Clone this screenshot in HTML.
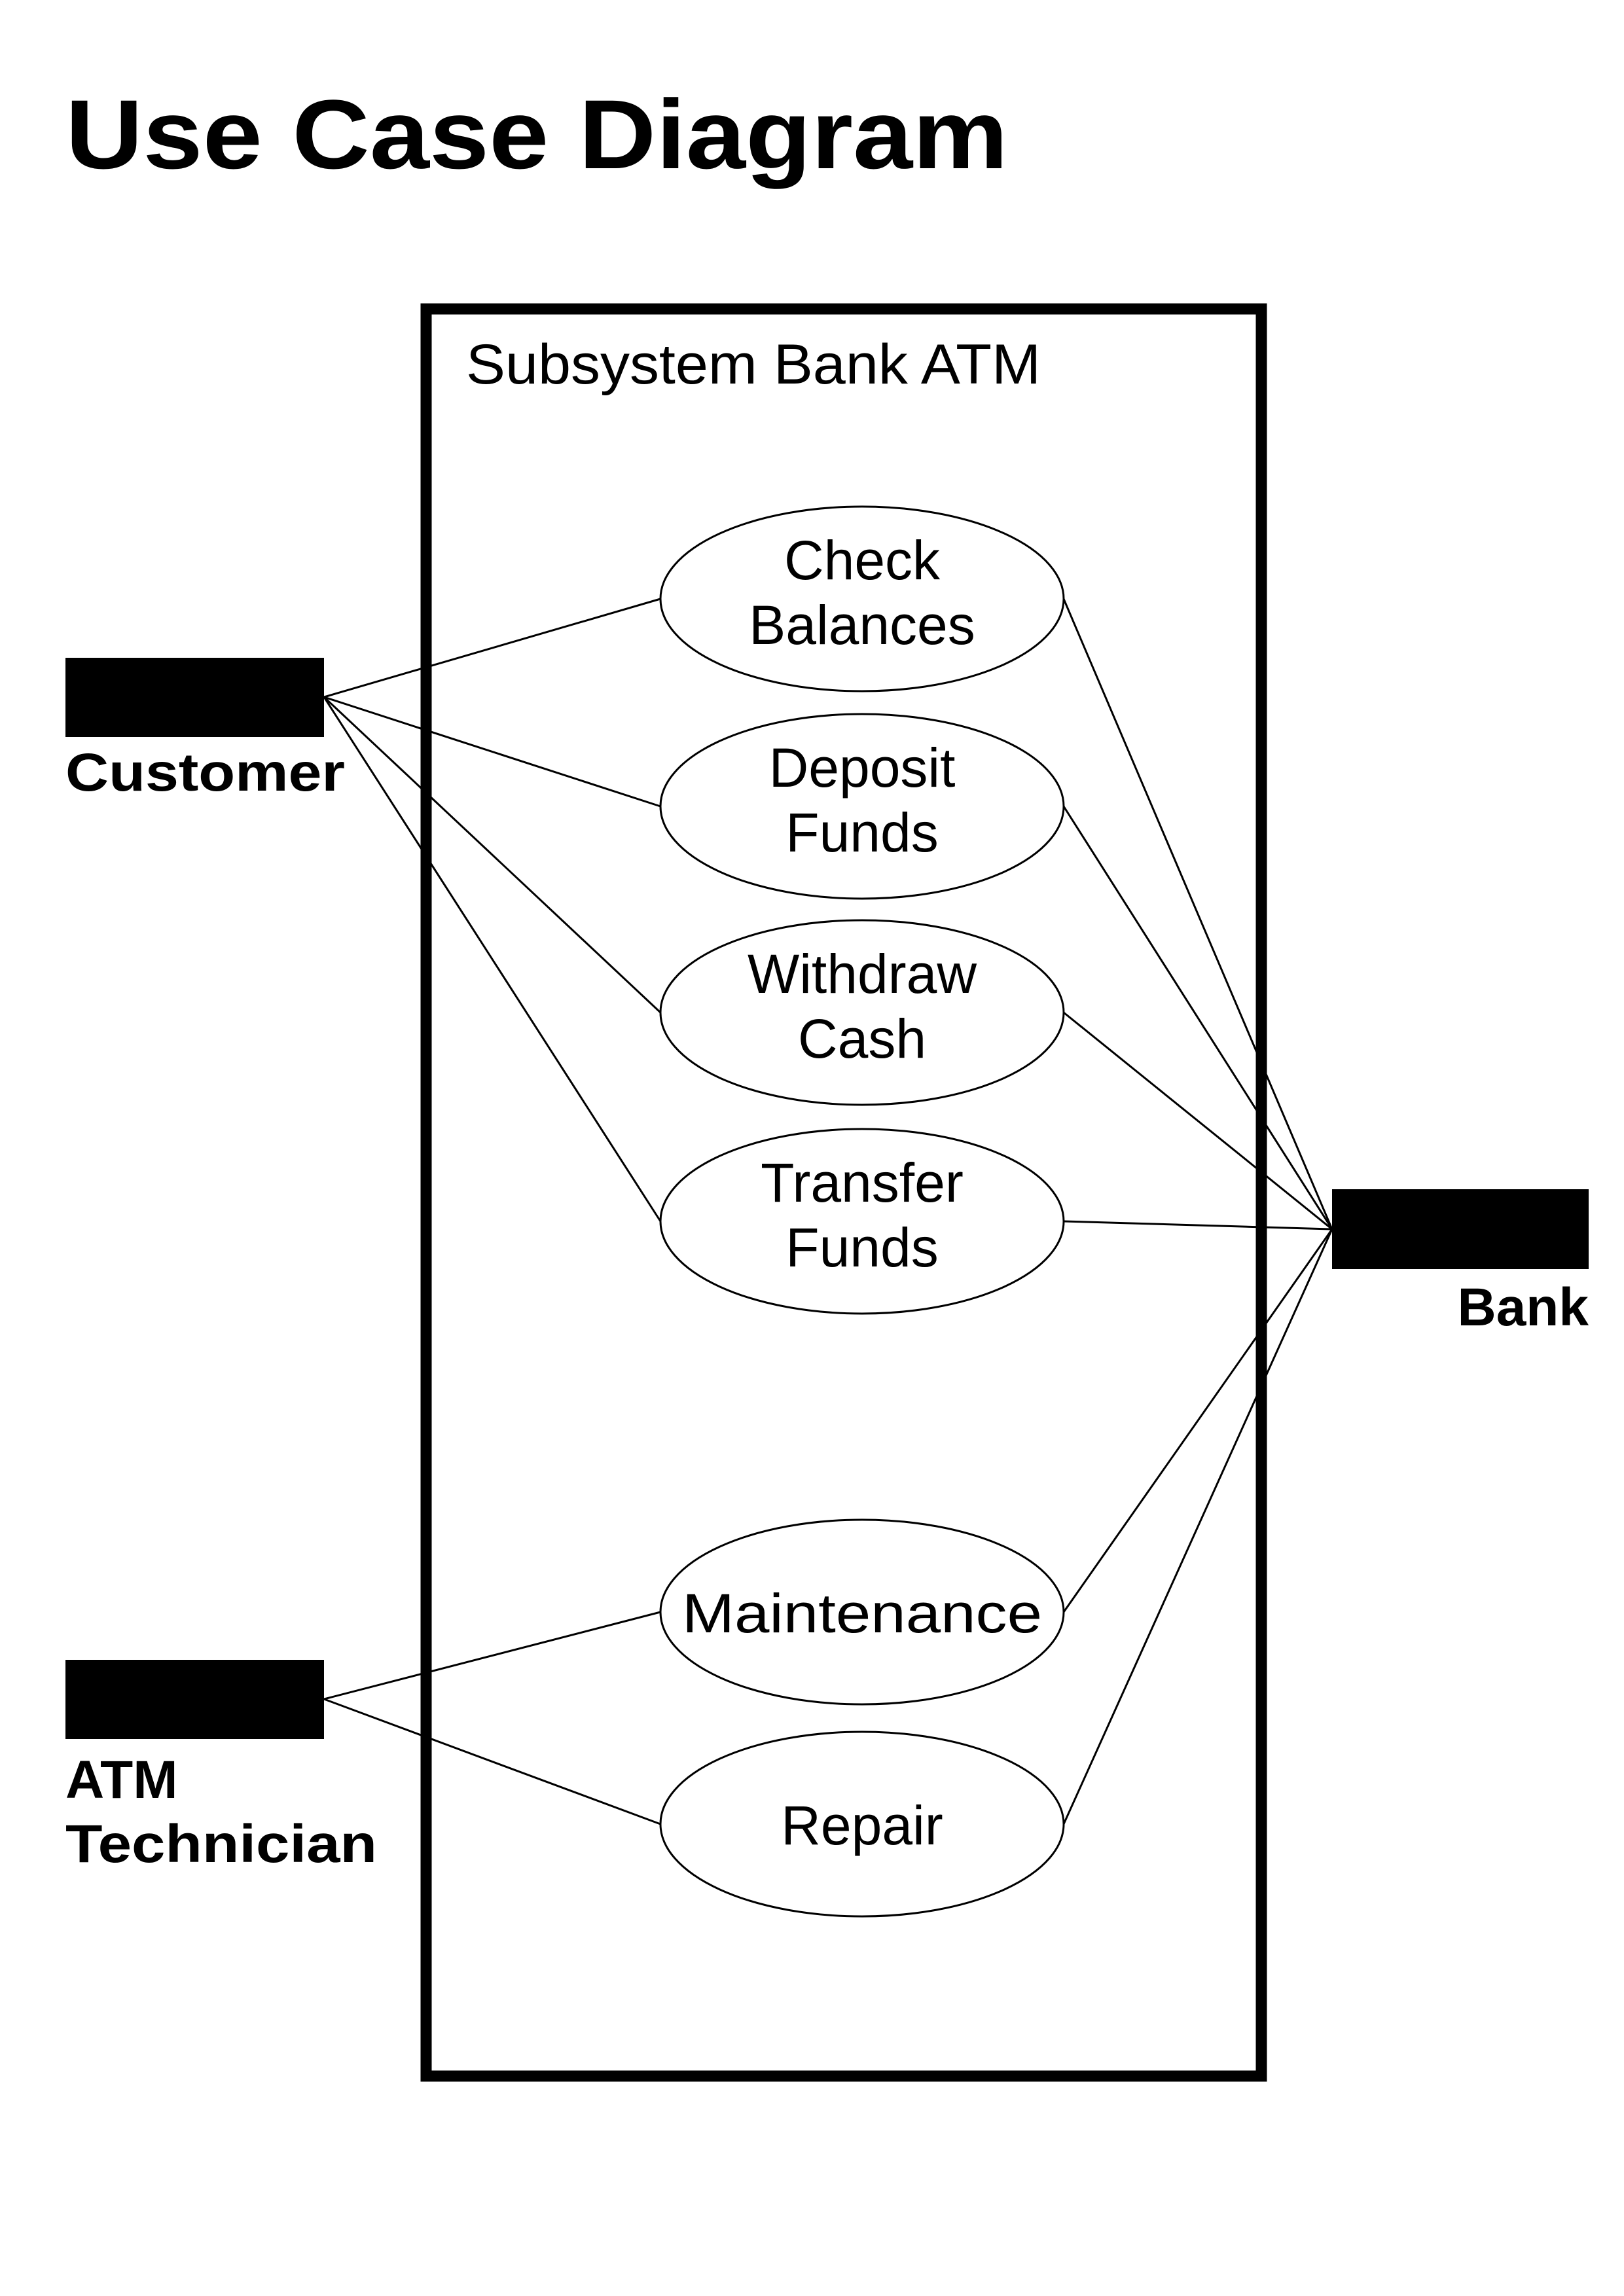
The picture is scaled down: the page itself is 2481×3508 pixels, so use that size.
<!DOCTYPE html>
<html><head><meta charset="utf-8"><style>html,body{margin:0;padding:0;background:#fff}svg{display:block}</style></head>
<body>
<svg width="2481" height="3508" viewBox="0 0 2481 3508" xmlns="http://www.w3.org/2000/svg" font-family="Liberation Sans, sans-serif">
<rect width="2481" height="3508" fill="#fff"/>
<text x="100" y="257" font-size="150" font-weight="bold" textLength="1440" lengthAdjust="spacingAndGlyphs">Use Case Diagram</text>
<rect x="651" y="472" width="1276" height="2700" fill="none" stroke="#000" stroke-width="17"/>
<text x="712" y="586" font-size="86" textLength="878" lengthAdjust="spacingAndGlyphs">Subsystem Bank ATM</text>
<g stroke="#000" stroke-width="3" fill="none">
<line x1="495" y1="1065" x2="1009" y2="915"/>
<line x1="495" y1="1065" x2="1009" y2="1232"/>
<line x1="495" y1="1065" x2="1009" y2="1547"/>
<line x1="495" y1="1065" x2="1009" y2="1866"/>
<line x1="495" y1="2596" x2="1009" y2="2463"/>
<line x1="495" y1="2596" x2="1009" y2="2787"/>
<line x1="2035" y1="1878" x2="1625" y2="915"/>
<line x1="2035" y1="1878" x2="1625" y2="1232"/>
<line x1="2035" y1="1878" x2="1625" y2="1547"/>
<line x1="2035" y1="1878" x2="1625" y2="1866"/>
<line x1="2035" y1="1878" x2="1625" y2="2463"/>
<line x1="2035" y1="1878" x2="1625" y2="2787"/>
</g>
<g stroke="#000" stroke-width="3" fill="#fff">
<ellipse cx="1317" cy="915" rx="308" ry="141"/>
<ellipse cx="1317" cy="1232" rx="308" ry="141"/>
<ellipse cx="1317" cy="1547" rx="308" ry="141"/>
<ellipse cx="1317" cy="1866" rx="308" ry="141"/>
<ellipse cx="1317" cy="2463" rx="308" ry="141"/>
<ellipse cx="1317" cy="2787" rx="308" ry="141"/>
</g>
<g font-size="84" text-anchor="middle">
<text x="1317" y="885">Check</text><text x="1317" y="984">Balances</text>
<text x="1317" y="1202">Deposit</text><text x="1317" y="1301">Funds</text>
<text x="1317" y="1517">Withdraw</text><text x="1317" y="1616">Cash</text>
<text x="1317" y="1836">Transfer</text><text x="1317" y="1935">Funds</text>
<text x="1317" y="2494" textLength="550" lengthAdjust="spacingAndGlyphs">Maintenance</text>
<text x="1317" y="2818">Repair</text>
</g>
<rect x="100" y="1005" width="395" height="121" fill="#000"/>
<rect x="100" y="2536" width="395" height="121" fill="#000"/>
<rect x="2035" y="1817" width="392" height="122" fill="#000"/>
<g font-size="82" font-weight="bold">
<text x="100" y="1208" textLength="427" lengthAdjust="spacingAndGlyphs">Customer</text>
<text x="100" y="2747">ATM</text>
<text x="100" y="2845" textLength="476" lengthAdjust="spacingAndGlyphs">Technician</text>
<text x="2427" y="2025" text-anchor="end">Bank</text>
</g>
</svg>
</body></html>
